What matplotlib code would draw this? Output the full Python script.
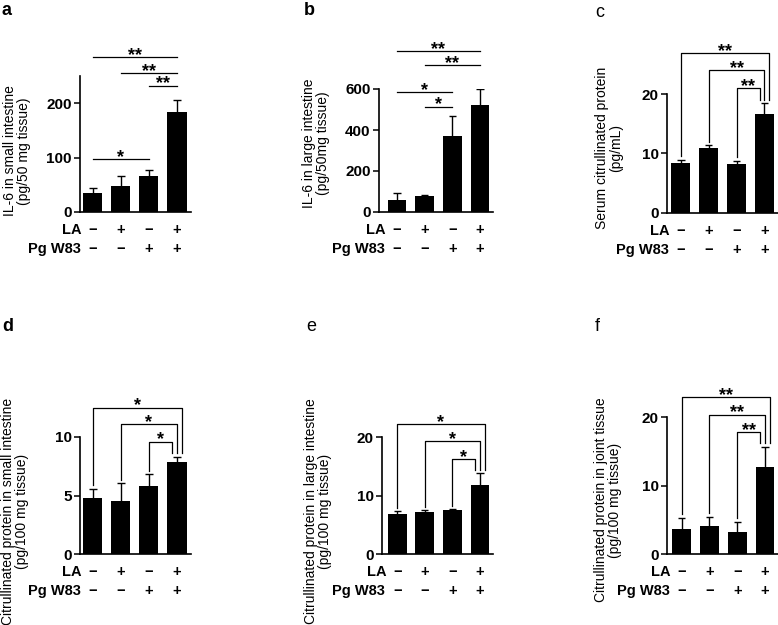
import matplotlib
matplotlib.use('Agg')
import matplotlib.pyplot as plt

plt.rcParams['font.family'] = ['Liberation Sans', 'DejaVu Sans']

W, H, DPI = 778, 625, 100

# ---------------- data ----------------
la_signs = ['−', '+', '−', '+']
pg_signs = ['−', '−', '+', '+']

a_vals = [35, 48, 67, 184]
a_err = [9, 19, 11, 21]
a_ylabel = ['IL-6 in small intestine', '(pg/50 mg tissue)']
a_ticks = [0, 100, 200]
a_brackets = [(0, 2, 97, '*'), (2, 3, 232, '**'), (1, 3, 255, '**'), (0, 3, 285, '**')]

b_vals = [60, 76, 372, 524]
b_err = [33, 9, 98, 78]
b_ylabel = ['IL-6 in large intestine', '(pg/50mg tissue)']
b_ticks = [0, 200, 400, 600]
b_brackets = [(1, 2, 514, '*'), (0, 2, 584, '*'), (1, 3, 715, '**'), (0, 3, 784, '**')]

c_vals = [8.4, 10.9, 8.3, 16.7]
c_err = [0.5, 0.5, 0.5, 1.8]
c_ylabel = ['Serum citrullinated protein', '(pg/mL)']
c_ticks = [0, 10, 20]
c_brackets = [(2, 3, 21.0, '**'), (1, 3, 24.1, '**'), (0, 3, 26.9, '**')]

d_vals = [4.76, 4.56, 5.84, 7.9]
d_err = [0.8, 1.47, 0.96, 0.4]
d_ylabel = ['Citrullinated protein in small intestine', '(pg/100 mg tissue)']
d_ticks = [0, 5, 10]
d_brackets = [(2, 3, 9.6, '*'), (1, 3, 11.1, '*'), (0, 3, 12.5, '*')]

e_vals = [6.8, 7.2, 7.6, 11.9]
e_err = [0.5, 0.3, 0.1, 1.9]
e_ylabel = ['Citrullinated protein in large intestine', '(pg/100 mg tissue)']
e_ticks = [0, 10, 20]
e_brackets = [(2, 3, 16.3, '*'), (1, 3, 19.3, '*'), (0, 3, 22.3, '*')]

f_vals = [3.65, 4.2, 3.2, 12.8]
f_err = [1.65, 1.2, 1.47, 2.9]
f_ylabel = ['Citrullinated protein in joint tissue', '(pg/100 mg tissue)']
f_ticks = [0, 10, 20]
f_brackets = [(2, 3, 17.8, '**'), (1, 3, 20.4, '**'), (0, 3, 22.9, '**')]

# ---------------- layout (pixels) ----------------
panels = [
    ('a', a_vals, a_err, a_ylabel, a_ticks, a_brackets, 'flat', (80, 191, 212, 76), (-0.46, 3.5), (0, 250), (17, 151), (2, 2), 'bold'),
    ('b', b_vals, b_err, b_ylabel, b_ticks, b_brackets, 'flat', (379, 493, 212, 89), (-0.65, 3.47), (0, 600), (316, 143), (304, 2), 'bold'),
    ('c', c_vals, c_err, c_ylabel, c_ticks, c_brackets, 'drop', (667, 778, 212.7, 94.3), (-0.5, 3.49), (0, 20), (609, 148), (595, 4), 'normal'),
    ('d', d_vals, d_err, d_ylabel, d_ticks, d_brackets, 'drop', (80, 191, 554, 437), (-0.46, 3.5), (0, 10), (15, 511), (2, 318), 'bold'),
    ('e', e_vals, e_err, e_ylabel, e_ticks, e_brackets, 'drop', (382, 493, 554, 437.3), (-0.55, 3.47), (0, 20), (318, 511), (306, 318), 'normal'),
    ('f', f_vals, f_err, f_ylabel, f_ticks, f_brackets, 'drop', (667, 778, 554.3, 417.3), (-0.53, 3.47), (0, 20), (608, 500), (595, 318), 'normal'),
]

PT = 72.0 / DPI  # points per pixel

fig = plt.figure(figsize=(W / DPI, H / DPI), dpi=DPI)

for (letter, vals, err, ylabel, ticks, brackets, style, (l, r, b, t), xlim, ylim,
     (lx, ly), (px, py), lweight) in panels:
    ax = fig.add_axes([l / W, 1 - b / H, (r - l) / W, (b - t) / H])
    x = list(range(len(vals)))
    tops = [v + e for v, e in zip(vals, err)]
    ax.bar(x, vals, width=0.68, color='black', zorder=2)
    ax.vlines(x, vals, tops, color='black', lw=1.0, zorder=1)
    ax.hlines(tops, [xi - 0.13 for xi in x], [xi + 0.13 for xi in x], color='black', lw=1.0)
    ax.set_xlim(*xlim)
    ax.set_ylim(*ylim)
    ax.set_xticks([])
    ax.set_yticks(ticks)
    ax.tick_params(axis='y', direction='out', length=4, width=1.1, labelsize=11, pad=2)
    plt.setp(ax.get_yticklabels(), fontweight='bold')
    for s in ['top', 'right']:
        ax.spines[s].set_visible(False)
    for s in ['left', 'bottom']:
        ax.spines[s].set_linewidth(1.2)

    # group rows
    for k in x:
        ax.annotate(la_signs[k], xy=(k, 0), xycoords=('data', 'axes fraction'),
                    xytext=(0, -18 * PT), textcoords='offset points', ha='center', va='center',
                    fontsize=10.5, fontweight='bold')
        ax.annotate(pg_signs[k], xy=(k, 0), xycoords=('data', 'axes fraction'),
                    xytext=(0, -37 * PT), textcoords='offset points', ha='center', va='center',
                    fontsize=10.5, fontweight='bold')
    ax.annotate('LA', xy=(0, 0), xycoords=('data', 'axes fraction'),
                xytext=(-11 * PT, -18 * PT), textcoords='offset points', ha='right', va='center',
                fontsize=10.5, fontweight='bold')
    ax.annotate('Pg W83', xy=(0, 0), xycoords=('data', 'axes fraction'),
                xytext=(-12 * PT, -37 * PT), textcoords='offset points', ha='right', va='center',
                fontsize=10.5, fontweight='bold')

    # significance brackets
    gap = 0.03 * ylim[1]
    offs = [-0.17, 0.0, 0.17]
    for n, (i, j, y, lab) in enumerate(brackets):
        if style == 'flat':
            ax.plot([i, j], [y, y], color='black', lw=0.9, clip_on=False)
            xm = (i + j) / 2
        else:
            xr = j + offs[n]
            ax.plot([i, i, xr, xr], [tops[i] + gap, y, y, tops[j] + gap],
                    color='black', lw=0.9, clip_on=False)
            xm = (i + xr) / 2
        ax.annotate(lab, xy=(xm, y), xytext=(0, -2.0), textcoords='offset points',
                    ha='center', va='baseline', fontsize=13, fontweight='bold',
                    annotation_clip=False)

    for m, line in enumerate(ylabel):
        fig.text((lx - 7 + 14 * m) / W, 1 - ly / H, line, rotation=90, ha='center', va='center',
                 fontsize=10)
    fig.text(px / W, 1 - py / H, letter, ha='left', va='top', fontsize=13, fontweight=lweight)

fig.savefig('out.png', dpi=DPI)
